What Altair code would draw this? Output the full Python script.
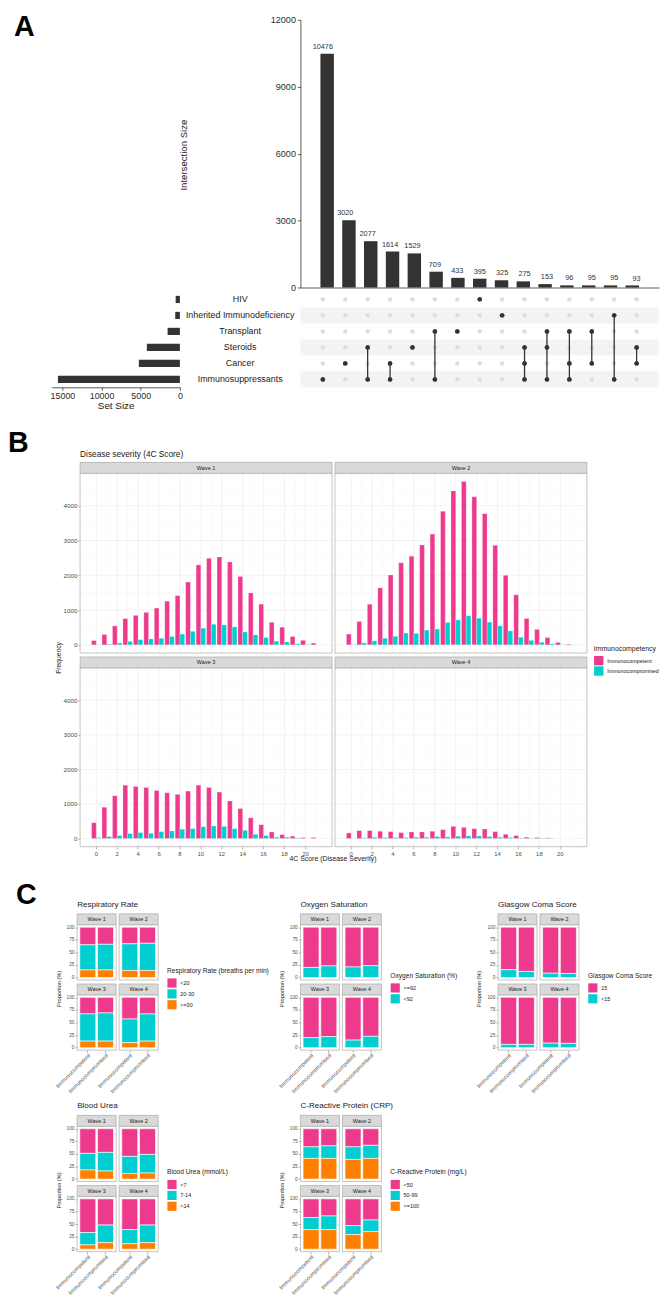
import altair as alt
import pandas as pd

FONT = "Liberation Sans"
PINK = "#EE3A8C"
CYAN = "#00CED1"
ORANGE = "#FF8000"
DARK = "#333333"
TXT = "#1A1A1A"
TICK_TXT = "#4D4D4D"
STRIP = "#D9D9D9"
FRAME = "#ABABAB"
GRID = "#EBEBEB"
GRID_MINOR = "#F4F4F4"

# ------------------------------------------------------------------ data
# Panel A (UpSet plot)
SETS = ["HIV", "Inherited Immunodeficiency", "Transplant", "Steroids", "Cancer", "Immunosuppressants"]
SET_SIZE = [540, 595, 1570, 4215, 5240, 15570]
INTER_SIZE = [10476, 3020, 2077, 1614, 1529, 709, 433, 395, 325, 275, 153, 96, 95, 95, 93]
INTER_SETS = [
    ["Immunosuppressants"],
    ["Cancer"],
    ["Steroids", "Immunosuppressants"],
    ["Cancer", "Immunosuppressants"],
    ["Steroids"],
    ["Transplant", "Immunosuppressants"],
    ["Transplant"],
    ["HIV"],
    ["Inherited Immunodeficiency"],
    ["Steroids", "Cancer", "Immunosuppressants"],
    ["Transplant", "Steroids", "Immunosuppressants"],
    ["Transplant", "Cancer", "Immunosuppressants"],
    ["Transplant", "Cancer"],
    ["Inherited Immunodeficiency", "Immunosuppressants"],
    ["Steroids", "Cancer"],
]
A_TICKS = [0, 3000, 6000, 9000, 12000]
SS_TICKS = [0, 5000, 10000, 15000]

# Panel B (4C score histograms)
SCORES = list(range(22))
GROUPS = ["Immunocompetent", "Immunocompromised"]
WAVES = ["Wave 1", "Wave 2", "Wave 3", "Wave 4"]
W1_IC = [123, 300, 545, 754, 848, 934, 1057, 1256, 1417, 1806, 2299, 2488, 2526, 2384, 1967, 1493, 1171, 649, 507, 240, 130, 50]
W1_ICP = [5, 20, 55, 100, 150, 170, 190, 240, 310, 390, 479, 592, 573, 517, 370, 285, 210, 105, 85, 30, 10, 3]
W2_IC = [310, 673, 1166, 1640, 2009, 2360, 2550, 2872, 3185, 3839, 4427, 4700, 4256, 3773, 2863, 2000, 1441, 758, 445, 210, 70, 20]
W2_ICP = [10, 55, 115, 190, 245, 340, 330, 425, 455, 645, 720, 834, 768, 654, 550, 400, 220, 130, 75, 30, 8, 3]
W3_IC = [457, 905, 1238, 1543, 1505, 1476, 1390, 1324, 1276, 1371, 1543, 1476, 1343, 1086, 867, 600, 400, 190, 114, 67, 29, 29]
W3_ICP = [29, 57, 86, 143, 171, 152, 200, 219, 267, 286, 343, 362, 352, 286, 238, 124, 86, 38, 38, 19, 3, 0]
W4_IC = [162, 229, 229, 210, 200, 171, 190, 190, 210, 257, 352, 324, 286, 276, 200, 124, 86, 38, 29, 19, 0, 0]
W4_ICP = [3, 19, 38, 29, 29, 29, 38, 38, 57, 48, 67, 76, 76, 57, 38, 29, 19, 10, 10, 10, 0, 0]
B_YTICKS = [0, 1000, 2000, 3000, 4000]
B_YGRID_MINOR = [500, 1500, 2500, 3500, 4500]
B_XTICKS = [0, 2, 4, 6, 8, 10, 12, 14, 16, 18, 20]

# Panel C (proportions, %) order: W1 IC, W1 ICP, W2 IC, W2 ICP, W3 IC, W3 ICP, W4 IC, W4 ICP
RR_CATS = ["<20", "20-30", ">=30"]
RR_LT20 = [35, 34, 33, 32, 33, 31, 43, 33]
RR_20TO30 = [50, 51, 53, 54, 54, 56, 47, 54]
RR_GE30 = [15, 15, 14, 14, 13, 13, 10, 13]

O2_CATS = [">=92", "<92"]
O2_GE92 = [80, 77, 79, 76.5, 80, 78, 85, 77.5]
O2_LT92 = [20, 23, 21, 23.5, 20, 22, 15, 22.5]

GCS_CATS = ["15", "<15"]
GCS_15 = [84.5, 88, 91.5, 92, 93.5, 93.5, 91, 91.5]
GCS_LT15 = [15.5, 12, 8.5, 8, 6.5, 6.5, 9, 8.5]

UREA_CATS = ["<7", "7-14", ">14"]
UREA_LT7 = [49, 47, 55, 51, 67, 52, 61, 52]
UREA_7TO14 = [33, 37, 34, 37, 24.5, 35, 28, 35]
UREA_GT14 = [18, 16, 11, 12, 8.5, 13, 11, 13]

CRP_CATS = ["<50", "50-99", ">=100"]
CRP_LT50 = [36, 34, 36, 33, 37, 34, 53, 42]
CRP_50TO99 = [23, 25, 25, 26, 24, 27, 18, 23]
CRP_GE100 = [41, 41, 39, 41, 39, 39, 29, 35]
C_YTICKS = [0, 25, 50, 75, 100]

# ------------------------------------------------------------------ layout helpers
OFF = 8          # page margin
W, H = 661, 1296


def X(v):
    return float(v - OFF)


def Y(v):
    return float(v - OFF)


layers = []


def text_label(s, x, y, size, color=TXT, align="left", angle=0, weight="normal"):
    return alt.Chart(pd.DataFrame({"t": [s]})).mark_text(
        align=align, baseline="middle", fontSize=size, color=color, angle=angle,
        fontWeight=weight, font=FONT
    ).encode(text="t:N", x=alt.value(X(x)), y=alt.value(Y(y)))


def box(x0, x1, y0, y1, fill=None, stroke=FRAME, sw=0.7):
    kw = dict(stroke=stroke, strokeWidth=sw)
    if fill:
        kw["fill"] = fill
    else:
        kw["fillOpacity"] = 0
    return alt.Chart(pd.DataFrame({"k": [0]})).mark_rect(**kw).encode(
        x=alt.value(X(x0)), x2=alt.value(X(x1)), y=alt.value(Y(y0)), y2=alt.value(Y(y1)))


def left_axis(xpos, values, size, fmt="d"):
    return alt.Axis(orient="left", offset=-X(xpos), values=values, format=fmt,
                    labelFontSize=size, labelColor=TICK_TXT, labelFont=FONT,
                    tickColor="#555555", tickSize=2, tickWidth=0.5, domain=False,
                    grid=False, title=None, labelPadding=1.2, labelOverlap=False)


def make_legend(title, x, ytop, tsize, lsize, sym, rowpad, tpad, loff):
    return alt.Legend(orient="none", legendX=X(x), legendY=Y(ytop), title=title,
                      titleFontSize=tsize, titleFont=FONT, titleFontWeight="normal",
                      titleColor=TXT, labelFontSize=lsize, labelFont=FONT, labelColor=TXT,
                      symbolType="square", symbolSize=sym, symbolStrokeWidth=0,
                      symbolOpacity=1, rowPadding=rowpad, titlePadding=tpad,
                      labelOffset=loff, padding=0, labelLimit=200)


# ------------------------------------------------------------------ Panel A
layers.append(text_label("A", 14, 19, 29, color="#000000", weight="bold"))

A_X = alt.Scale(domain=[0, 16], range=[X(304), X(667)], nice=False, zero=False)
A_Y = alt.Scale(domain=[0, 12000], range=[Y(283), Y(12)], nice=False)
ROW_PT = alt.Scale(type="point", domain=SETS, range=[Y(295), Y(376)], padding=0)
ROW_BAND = alt.Scale(type="band", domain=SETS, range=[Y(287), Y(384)], paddingInner=0, paddingOuter=0)
SS_BAND = alt.Scale(type="band", domain=SETS, range=[Y(287), Y(384)], paddingInner=0.55, paddingOuter=0.275)
SS_X = alt.Scale(domain=[0, 16400], range=[X(182), X(52)], nice=False)

# alternating row stripes
stripe_df = pd.DataFrame({"set": [SETS[1], SETS[3], SETS[5]]})
layers.append(alt.Chart(stripe_df).mark_rect(color="#F3F3F3").encode(
    y=alt.Y("set:N", scale=ROW_BAND, axis=None), x=alt.value(X(304)), x2=alt.value(X(667))))

mat = pd.DataFrame([{"idx": i + 1, "set": s, "m": "yes" if s in mem else "no"}
                    for i, mem in enumerate(INTER_SETS) for s in SETS])
layers.append(alt.Chart(mat).mark_circle(size=20, opacity=1).encode(
    x=alt.X("idx:Q", scale=A_X, axis=None),
    y=alt.Y("set:N", scale=ROW_PT, axis=None),
    color=alt.Color("m:N", scale=alt.Scale(domain=["no", "yes"], range=["#DDDDDD", DARK]), legend=None)))

seg = []
for i, mem in enumerate(INTER_SETS):
    if len(mem) > 1:
        ids = sorted(SETS.index(s) for s in mem)
        seg.append({"idx": i + 1, "s1": SETS[ids[0]], "s2": SETS[ids[-1]]})
layers.append(alt.Chart(pd.DataFrame(seg)).mark_rule(color=DARK, strokeWidth=1.3).encode(
    x=alt.X("idx:Q", scale=A_X, axis=None),
    y=alt.Y("s1:N", scale=ROW_PT, axis=None), y2="s2:N"))
layers.append(alt.Chart(mat).transform_filter("datum.m == 'yes'").mark_circle(size=20, opacity=1, color=DARK).encode(
    x=alt.X("idx:Q", scale=A_X, axis=None),
    y=alt.Y("set:N", scale=ROW_PT, axis=None)))

inter = pd.DataFrame({"idx": list(range(1, 16)), "n": INTER_SIZE})
layers.append(alt.Chart(inter).mark_bar(size=13.6, color=DARK).encode(
    x=alt.X("idx:Q", scale=A_X,
            axis=alt.Axis(orient="bottom", offset=Y(283) - H, labels=False, ticks=False,
                          domainColor=DARK, domainWidth=0.8, grid=False, title=None)),
    y=alt.Y("n:Q", scale=A_Y,
            axis=alt.Axis(orient="left", offset=-X(304), values=A_TICKS, format="d",
                          labelFontSize=9.2, labelColor="#2B2B2B", tickColor=DARK, tickSize=3,
                          tickWidth=0.8, domainColor=DARK, domainWidth=0.8, grid=False,
                          title=None, labelPadding=2, labelOverlap=False))))
layers.append(alt.Chart(inter).mark_text(baseline="bottom", dy=-3, fontSize=7.4, color="#333333").encode(
    x=alt.X("idx:Q", scale=A_X, axis=None),
    y=alt.Y("n:Q", scale=A_Y, axis=None),
    text="n:Q"))
layers.append(text_label("Intersection Size", 186, 149, 9.7, color="#222222", align="center", angle=270))

ss = pd.DataFrame({"set": SETS, "n": SET_SIZE})
layers.append(alt.Chart(ss).mark_bar(color=DARK).encode(
    y=alt.Y("set:N", scale=SS_BAND, axis=None),
    x=alt.X("n:Q", scale=SS_X,
            axis=alt.Axis(orient="bottom", offset=Y(384) - H, values=SS_TICKS, format="d",
                          labelFontSize=9, labelColor="#2B2B2B", tickColor=DARK, tickSize=3,
                          tickWidth=0.8, domainColor=DARK, domainWidth=0.8, grid=False,
                          title="Set Size", titleFontSize=10, titleFontWeight="normal",
                          titleColor=TXT, titlePadding=0, labelPadding=1.5,
                          labelFlush=False, labelOverlap=False))))
layers.append(alt.Chart(ss).mark_text(fontSize=9, color=TXT, align="center", baseline="middle").encode(
    y=alt.Y("set:N", scale=ROW_PT, axis=None), x=alt.value(X(243)), text="set:N"))

# ------------------------------------------------------------------ Panel B
layers.append(text_label("B", 8, 440, 29, color="#000000", weight="bold"))
layers.append(text_label("Disease severity (4C Score)", 81, 452, 8.4))

B_COLS = [(81, 336), (339, 594)]
B_ROWS = [(460, 471, 653), (657, 668, 849)]
B_SERIES = [(W1_IC, W1_ICP), (W2_IC, W2_ICP), (W3_IC, W3_ICP), (W4_IC, W4_ICP)]
B_UNITS = 24.09   # panel width in score units (ggplot expanded range)
score_df = pd.DataFrame({"score": SCORES})

for w, (ic, icp) in enumerate(B_SERIES):
    x0, x1 = B_COLS[w % 2]
    s0, p0, p1 = B_ROWS[w // 2]
    step = (x1 - x0) / B_UNITS
    xs = alt.Scale(type="band", domain=SCORES, range=[X(x0 + step), X(x1 - step)],
                   paddingInner=0.1, paddingOuter=0.095)
    ys = alt.Scale(domain=[-235, 4935], range=[Y(p1), Y(p0)], nice=False)
    for vals, col, sw in [(B_YGRID_MINOR, GRID_MINOR, 0.45), (B_YTICKS, GRID, 0.65)]:
        layers.append(alt.Chart(pd.DataFrame({"v": vals})).mark_rule(color=col, strokeWidth=sw).encode(
            y=alt.Y("v:Q", scale=ys, axis=None), x=alt.value(X(x0)), x2=alt.value(X(x1))))
    for expr, col, sw in [("datum.score % 2 == 1", GRID_MINOR, 0.45), ("datum.score % 2 == 0", GRID, 0.65)]:
        layers.append(alt.Chart(score_df).transform_filter(expr).mark_rule(color=col, strokeWidth=sw).encode(
            x=alt.X("score:O", scale=xs, axis=None), y=alt.value(Y(p0)), y2=alt.value(Y(p1))))
    df = pd.DataFrame({"score": SCORES * 2,
                       "grp": [GROUPS[0]] * len(SCORES) + [GROUPS[1]] * len(SCORES),
                       "n": list(ic) + list(icp)})
    xax = None
    if w >= 2:
        xax = alt.Axis(orient="bottom", offset=Y(p1) - H, values=B_XTICKS, labelAngle=0,
                       labelFontSize=6, labelColor=TICK_TXT, tickColor="#555555", tickSize=2,
                       tickWidth=0.5, domain=False, grid=False, title=None, labelPadding=1.5,
                       labelOverlap=False)
    yax = left_axis(x0, B_YTICKS, 6.3) if w % 2 == 0 else None
    leg = None
    if w == 0:
        leg = make_legend("Immunocompetency", 601, 644.5, 7, 5.45, 90, 0.5, 4.2, 3.5)
    layers.append(alt.Chart(df).mark_bar(stroke="white", strokeWidth=0.25).encode(
        x=alt.X("score:O", scale=xs, axis=xax),
        xOffset=alt.XOffset("grp:N", scale=alt.Scale(domain=GROUPS)),
        y=alt.Y("n:Q", stack=None, scale=ys, axis=yax),
        color=alt.Color("grp:N", scale=alt.Scale(domain=GROUPS, range=[PINK, CYAN]), legend=leg)))
    layers.append(box(x0, x1, p0, p1))
    layers.append(box(x0, x1, s0, p0, fill=STRIP))
    layers.append(text_label(WAVES[w], (x0 + x1) / 2, (s0 + p0) / 2, 5.6, align="center"))

layers.append(text_label("Frequency", 60, 658, 6.8, align="center", angle=270))
layers.append(text_label("4C Score (Disease Severity)", 337, 862, 7, align="center"))

# ------------------------------------------------------------------ Panel C
layers.append(text_label("C", 16, 898, 29, color="#000000", weight="bold"))

C_ROW_SHIFT = 204
C_PLOTS = [
    dict(title="Respiratory Rate", left=78, row=0, cats=RR_CATS, colors=[PINK, CYAN, ORANGE],
         vals=[RR_LT20, RR_20TO30, RR_GE30], legend="Respiratory Rate (breaths per min)",
         lx=169, ly=975, ylab=60),
    dict(title="Oxygen Saturation", left=304, row=0, cats=O2_CATS, colors=[PINK, CYAN],
         vals=[O2_GE92, O2_LT92], legend="Oxygen Saturation (%)", lx=395, ly=980, ylab=285),
    dict(title="Glasgow Coma Score", left=504, row=0, cats=GCS_CATS, colors=[PINK, CYAN],
         vals=[GCS_15, GCS_LT15], legend="Glasgow Coma Score", lx=595, ly=980, ylab=485),
    dict(title="Blood Urea", left=78, row=1, cats=UREA_CATS, colors=[PINK, CYAN, ORANGE],
         vals=[UREA_LT7, UREA_7TO14, UREA_GT14], legend="Blood Urea (mmol/L)",
         lx=169, ly=975, ylab=60),
    dict(title="C-Reactive Protein (CRP)", left=304, row=1, cats=CRP_CATS, colors=[PINK, CYAN, ORANGE],
         vals=[CRP_LT50, CRP_50TO99, CRP_GE100], legend="C-Reactive Protein (mg/L)",
         lx=395, ly=975, ylab=285),
]

for p in C_PLOTS:
    dy = C_ROW_SHIFT * p["row"]
    left = p["left"]
    cols = [(left, left + 39.5), (left + 42.5, left + 82)]
    rows = [(917 + dy, 928 + dy, 984 + dy), (988 + dy, 999 + dy, 1055 + dy)]
    cats = p["cats"]
    n = len(cats)
    layers.append(text_label(p["title"], left, 908 + dy, 8.2))
    layers.append(text_label("Proportion (%)", p["ylab"], 993 + dy, 5.7, align="center", angle=270))
    for w in range(4):
        x0, x1 = cols[w % 2]
        s0, p0, p1 = rows[w // 2]
        recs = []
        for g in range(2):
            k = 2 * w + g
            for ci, cat in enumerate(cats):
                recs.append({"grp": GROUPS[g], "cat": cat, "val": p["vals"][ci][k], "ord": n - 1 - ci})
        df = pd.DataFrame(recs)
        xs = alt.Scale(type="band", domain=GROUPS, range=[X(x0), X(x1)], paddingInner=0.1, paddingOuter=0.15)
        ys = alt.Scale(domain=[-5, 105], range=[Y(p1), Y(p0)], nice=False)
        xax = None
        if w >= 2:
            xax = alt.Axis(orient="bottom", offset=Y(p1) - H, labelAngle=315, labelAlign="right",
                           labelBaseline="top", labelFontSize=5.6, labelColor=TICK_TXT,
                           tickColor="#555555", tickSize=2, tickWidth=0.5, domain=False,
                           grid=False, title=None, labelPadding=0.5, labelOverlap=False)
        yax = left_axis(x0, C_YTICKS, 4.8) if w % 2 == 0 else None
        leg = None
        if w == 0:
            leg = make_legend(p["legend"], p["lx"], p["ly"] + dy - 3.4, 6.7, 5.5, 86, 1, 3.7, 3.4)
        layers.append(alt.Chart(pd.DataFrame({"v": C_YTICKS})).mark_rule(color=GRID, strokeWidth=0.5).encode(
            y=alt.Y("v:Q", scale=ys, axis=None), x=alt.value(X(x0)), x2=alt.value(X(x1))))
        layers.append(alt.Chart(df).mark_bar(stroke="white", strokeWidth=0.6).encode(
            x=alt.X("grp:N", scale=xs, axis=xax),
            y=alt.Y("val:Q", stack="zero", scale=ys, axis=yax),
            color=alt.Color("cat:N", scale=alt.Scale(domain=cats, range=p["colors"]), legend=leg),
            order=alt.Order("ord:Q", sort="ascending")))
        layers.append(box(x0, x1, p0, p1))
        layers.append(box(x0, x1, s0, p0, fill=STRIP))
        layers.append(text_label(WAVES[w], (x0 + x1) / 2, (s0 + p0) / 2, 5.5, align="center"))

chart = alt.layer(*layers).resolve_scale(
    x="independent", y="independent", color="independent", xOffset="independent"
).resolve_axis(x="independent", y="independent").resolve_legend(color="independent").properties(
    width=W, height=H, padding=0, autosize=alt.AutoSizeParams(type="none"), background="white"
).configure(font=FONT).configure_view(strokeWidth=0)

chart.save("out.html", embed_options={"renderer": "svg", "actions": False})
